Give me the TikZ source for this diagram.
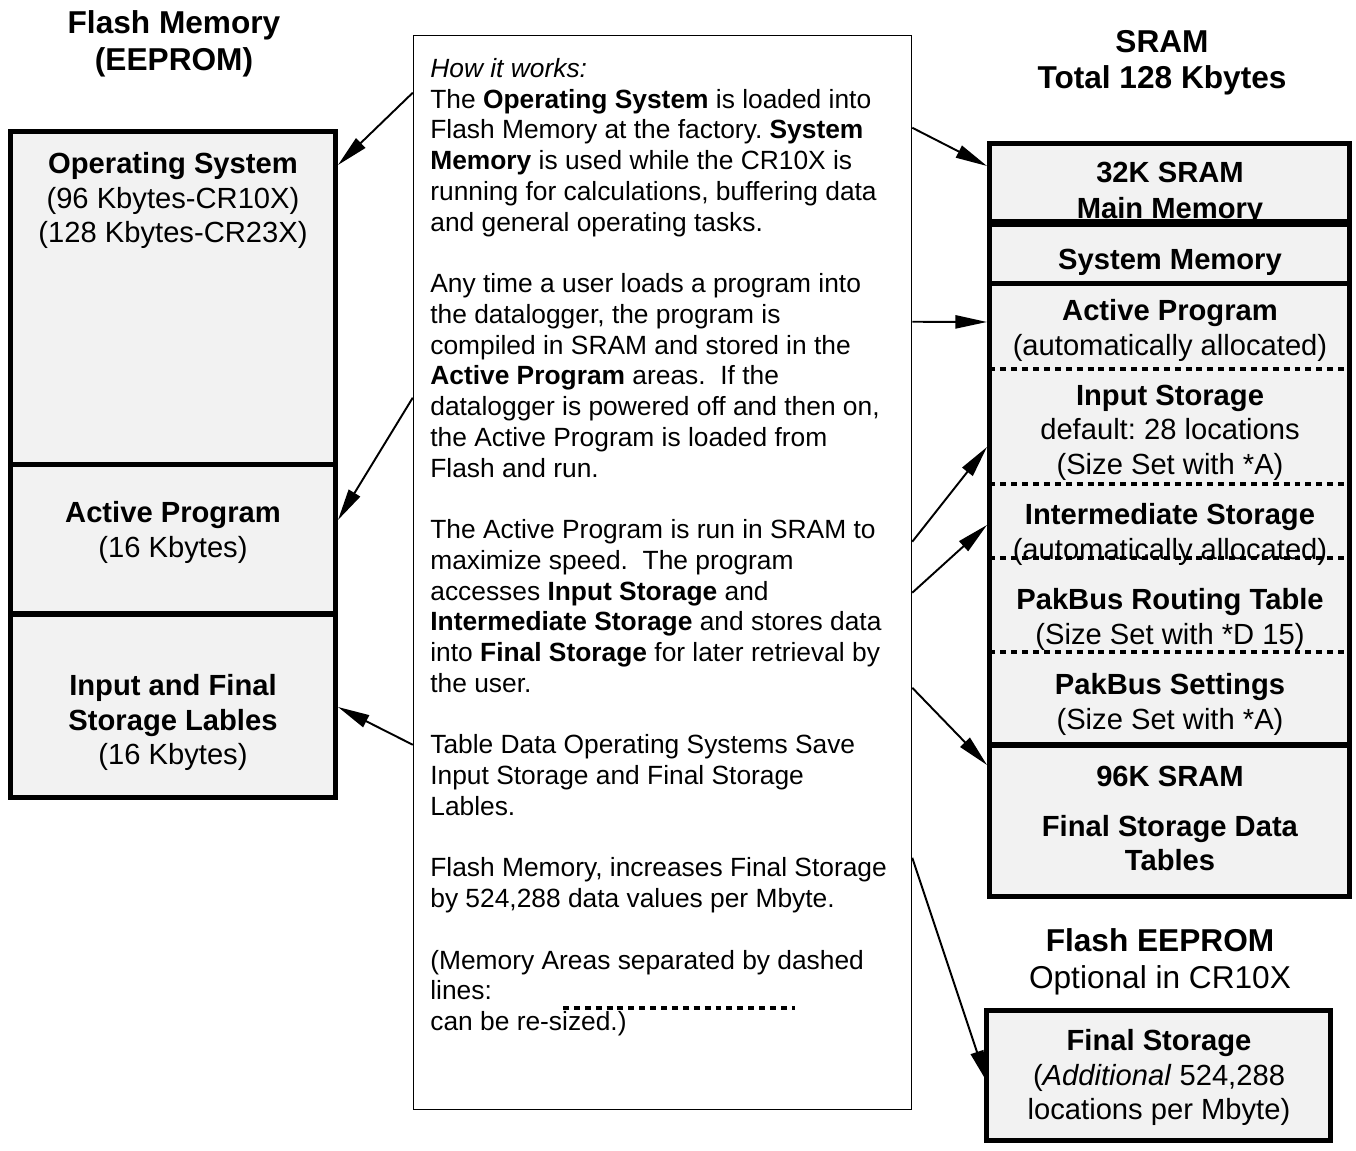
\documentclass[tikz,border=0pt]{standalone}
\usepackage{fontspec}
\setmainfont{Liberation Sans}
\usetikzlibrary{arrows.meta,calc,fit}
\definecolor{blockgray}{HTML}{F2F2F2}
\frenchspacing

\begin{document}
\begin{tikzpicture}[
    x = 0.02cm,
    y = -0.02cm,
    >={Triangle[length=18pt,width=7.5pt]},
    block/.style = {
      draw,
      fill = blockgray,
      rectangle,
      line width = 2.85pt,
      inner sep = 0pt
    },
    body/.style = {
      align = center,
      anchor = north,
      inner sep = 0pt,
      font = \fontsize{16.6}{19.6}\selectfont
    },
    title/.style = {
      align = center,
      anchor = north,
      inner sep = 0pt,
      font = \fontsize{18}{20.8}\selectfont
    },
    sep/.style = {
      line width = 2.3pt,
      dash pattern = on 3.4pt off 2.8pt
    },
    link/.style = {
      ->,
      line width = 1.1pt
    }
  ]
  \useasboundingbox (0,0) rectangle (1356,1151);

  % flash memory (left)
  \node[block, fit={(10.5,131.5) (335.5,465)}] (os) {};
  \node[block, fit={(10.5,465) (335.5,614)}] (apl) {};
  \node[block, fit={(10.5,614) (335.5,797.5)}] (lab) {};

  % sram (right)
  \node[block, fit={(989.5,143.5) (1349.5,222)}] (main) {};
  \node[block, fit={(989.5,222) (1349.5,284)}] (sys) {};
  \node[block, fit={(989.5,284) (1349.5,745)}] (dyn) {};
  \node[block, fit={(989.5,745) (1349.5,896.5)}] (fin) {};

  % optional flash eeprom
  \node[block, fit={(986.5,1010.5) (1330.5,1140.5)}] (fs) {};

  % how it works
  \node[draw, fill=white, line width=0.85pt, inner sep=0pt,
    fit={(413.5,35.5) (911.5,1109.5)}] (info) {};

  \node[title] (flashtitle) at (174,10.7) {\textbf{Flash Memory}\\\textbf{(EEPROM)}};
  \node[title] (sramtitle) at (1162,29.7) {\textbf{SRAM}\\\textbf{Total 128 Kbytes}};
  \node[title] (eeptitle) at (1160,928.7) {\textbf{Flash EEPROM}\\Optional in CR10X};

  \node[body] (ostext) at (173,152.5) {\textbf{Operating System}\\(96 Kbytes-CR10X)\\(128 Kbytes-CR23X)};
  \node[body] (apltext) at (173,501.5) {\textbf{Active Program}\\(16 Kbytes)};
  \node[body] (labtext) at (173,674.5) {\textbf{Input and Final}\\\textbf{Storage Lables}\\(16 Kbytes)};

  \node[body] (maintext) at (1170,161.5) {\textbf{32K SRAM}\\[1pt]\textbf{Main Memory}};
  \node[body] (systext) at (1170,248.5) {\textbf{System Memory}};
  \node[body] (aprtext) at (1170,299.5) {\textbf{Active Program}\\(automatically allocated)};
  \node[body] (inptext) at (1170,384.5) {\textbf{Input Storage}\\default: 28 locations\\(Size Set with *A)};
  \node[body] (intertext) at (1170,503.5) {\textbf{Intermediate Storage}\\(automatically allocated)};
  \node[body] (routetext) at (1170,588.5) {\textbf{PakBus Routing Table}\\(Size Set with *D 15)};
  \node[body] (psettext) at (1170,673.5) {\textbf{PakBus Settings}\\(Size Set with *A)};
  \node[body] (fintext) at (1170,765.5) {\textbf{96K SRAM}\\[9pt]\textbf{Final Storage Data}\\\textbf{Tables}};
  \node[body] (fstext) at (1159,1029.5) {\textbf{Final Storage}\\(\textit{Additional} 524,288\\locations per Mbyte)};

  \node[anchor=north west, align=left, inner sep=0pt,
    font=\fontsize{15}{17.5}\selectfont] (howtext) at (430,58) {%
    \textit{How it works:}\\
    The \textbf{Operating System} is loaded into\\
    Flash Memory at the factory. \textbf{System}\\
    \textbf{Memory} is used while the CR10X is\\
    running for calculations, buffering data\\
    and general operating tasks.\\[17.5pt]
    Any time a user loads a program into\\
    the datalogger, the program is\\
    compiled in SRAM and stored in the\\
    \textbf{Active Program} areas.\ \ If the\\
    datalogger is powered off and then on,\\
    the Active Program is loaded from\\
    Flash and run.\\[17.5pt]
    The Active Program is run in SRAM to\\
    maximize speed.\ \ The program\\
    accesses \textbf{Input Storage} and\\
    \textbf{Intermediate Storage} and stores data\\
    into \textbf{Final Storage} for later retrieval by\\
    the user.\\[17.5pt]
    Table Data Operating Systems Save\\
    Input Storage and Final Storage\\
    Lables.\\[17.5pt]
    Flash Memory, increases Final Storage\\
    by 524,288 data values per Mbyte.\\[17.5pt]
    (Memory Areas separated by dashed\\
    lines:\\
    can be re-sized.)};

  % resizable areas
  \draw[sep] (989.5,369) -- (1349.5,369);
  \draw[sep] (989.5,484) -- (1349.5,484);
  \draw[sep] (989.5,558) -- (1349.5,558);
  \draw[sep] (989.5,652) -- (1349.5,652);
  \draw[sep] (563,1008) -- (795,1008);
  \draw[line width=2.85pt] (main.south west) -- (main.south east);

  \draw[link] ($(info.north west)+(0,58)$) -- ($(os.north east)+(0,36)$);
  \draw[link] ($(info.north west)+(0,363)$) -- ($(apl.north east)+(0,57.5)$);
  \draw[link] ($(info.north west)+(0,710)$) -- ($(lab.north east)+(0,95.5)$);

  \draw[link] ($(info.north east)+(0,93)$) -- ($(main.north west)+(0,25)$);
  \draw[link] ($(info.north east)+(0,287)$) -- ($(dyn.north west)+(0,40.5)$);
  \draw[link] ($(info.north east)+(0,507)$) -- ($(dyn.north west)+(0,165.5)$);
  \draw[link] ($(info.north east)+(0,558)$) -- ($(dyn.north west)+(0,243.5)$);
  \draw[link] ($(info.north east)+(0,653)$) -- ($(fin.north west)+(0,22.5)$);
  \draw[link] ($(info.north east)+(0,823)$) -- ($(fs.north west)+(3,74)$);

\end{tikzpicture}
\end{document}
